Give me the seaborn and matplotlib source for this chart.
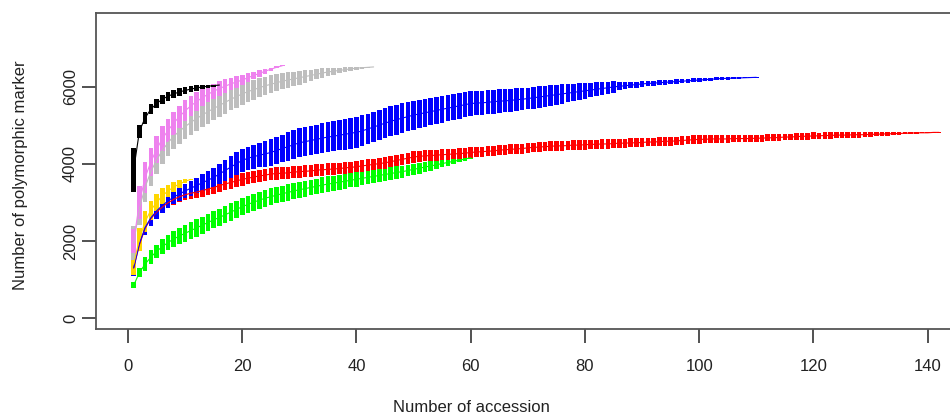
import matplotlib
matplotlib.use("Agg")
import matplotlib.pyplot as plt
import numpy as np
import seaborn as sns

# accumulation curves: mean number of markers and box height per accession count
black_mean = [3850, 4850, 5200, 5420, 5570, 5680, 5760, 5820, 5870, 5910, 5945, 5975, 6000, 6020, 6035, 6050]
black_box = [1150, 330, 300, 270, 250, 240, 230, 220, 210, 190, 170, 140, 110, 80, 50, 20]

violet_mean = [2000, 3000, 3650, 4050, 4380, 4650, 4870, 5060, 5230, 5380, 5510, 5620, 5720, 5810,
               5890, 5960, 6020, 6080, 6130, 6180, 6240, 6300, 6350, 6410, 6460, 6510, 6550]
violet_box = [600, 850, 800, 750, 700, 650, 620, 600, 570, 540, 510, 480, 450, 420,
              400, 380, 350, 320, 300, 270, 240, 200, 170, 130, 90, 50, 20]

grey_mean = [1950, 2850, 3400, 3800, 4100, 4350, 4550, 4720, 4850, 4970, 5080, 5180, 5270, 5360, 5440,
             5520, 5600, 5680, 5750, 5820, 5880, 5930, 5980, 6030, 6070, 6110, 6150, 6180, 6210, 6240,
             6270, 6300, 6330, 6360, 6390, 6410, 6430, 6450, 6470, 6490, 6500, 6510, 6520]
grey_box = [900, 850, 800, 750, 720, 700, 690, 680, 670, 660, 650, 640, 630, 620, 610,
            600, 590, 580, 570, 560, 540, 520, 500, 480, 460, 440, 420, 400, 380, 360,
            330, 300, 270, 240, 210, 180, 150, 120, 100, 80, 60, 40, 20]

gold_mean = [1400, 2050, 2500, 2800, 3000, 3170, 3300, 3400, 3480, 3550, 3600]
gold_box = [550, 600, 550, 500, 450, 400, 330, 260, 190, 110, 30]

blue_mean = [1300, 1930, 2350, 2600, 2780, 2920, 3040, 3140, 3220, 3300,
             3370, 3440, 3510, 3580, 3650, 3740, 3830, 3920, 4010, 4090,
             4150, 4190, 4230, 4260, 4300, 4350, 4400, 4450, 4500, 4550,
             4580, 4610, 4640, 4670, 4700, 4720, 4750, 4770, 4800, 4820,
             4860, 4910, 4960, 5010, 5060, 5110, 5150, 5190, 5230, 5270,
             5300, 5330, 5360, 5390, 5420, 5450, 5480, 5510, 5540, 5570,
             5580, 5590, 5600, 5620, 5630, 5640, 5650, 5670, 5680, 5700,
             5720, 5740, 5760, 5780, 5800, 5820, 5840, 5860, 5880, 5900,
             5920, 5940, 5960, 5980, 6000, 6020, 6030, 6050, 6060, 6080,
             6090, 6100, 6110, 6120, 6130, 6140, 6150, 6160, 6170, 6180,
             6190, 6200, 6210, 6220, 6225, 6230, 6235, 6240, 6245, 6250]
blue_box = [400, 350, 400, 400, 400, 380, 370, 360, 350, 350,
            380, 410, 440, 470, 500, 530, 560, 590, 600, 600,
            600, 620, 640, 660, 680, 700, 720, 740, 750, 750,
            760, 765, 770, 775, 780, 785, 790, 795, 800, 800,
            800, 800, 800, 790, 790, 780, 780, 770, 760, 750,
            740, 730, 720, 710, 700, 690, 680, 670, 660, 650,
            640, 630, 620, 620, 610, 600, 600, 590, 580, 570,
            560, 550, 540, 530, 520, 500, 480, 460, 440, 420,
            380, 360, 340, 320, 300, 200, 180, 160, 150, 140,
            135, 130, 125, 120, 115, 110, 105, 100, 100, 95,
            90, 85, 80, 75, 70, 60, 50, 40, 30, 15]

red_mean = [1300, 1900, 2330, 2580, 2750, 2880, 2990, 3080, 3150, 3200,
            3240, 3270, 3310, 3350, 3390, 3440, 3480, 3520, 3560, 3600,
            3630, 3660, 3690, 3710, 3740, 3750, 3760, 3770, 3790, 3800,
            3810, 3820, 3840, 3850, 3860, 3870, 3880, 3900, 3910, 3930,
            3950, 3970, 3990, 4010, 4030, 4060, 4090, 4120, 4150, 4180,
            4200, 4210, 4220, 4230, 4240, 4250, 4260, 4270, 4280, 4300,
            4310, 4320, 4330, 4340, 4360, 4370, 4380, 4390, 4400, 4420,
            4430, 4440, 4450, 4460, 4470, 4470, 4480, 4490, 4490, 4500,
            4510, 4510, 4520, 4520, 4530, 4540, 4540, 4550, 4550, 4560,
            4570, 4570, 4580, 4590, 4590, 4600, 4610, 4620, 4630, 4640,
            4640, 4650, 4650, 4650, 4650, 4660, 4660, 4660, 4660, 4670,
            4670, 4680, 4680, 4690, 4700, 4700, 4710, 4720, 4720, 4730,
            4730, 4740, 4740, 4750, 4750, 4750, 4760, 4760, 4760, 4770,
            4770, 4780, 4780, 4790, 4790, 4800, 4800, 4810, 4810, 4810, 4820, 4820]
red_box = [300, 280, 300, 300, 300, 290, 280, 280, 270, 270,
           280, 320, 320, 320, 320, 320, 320, 320, 320, 320,
           320, 320, 320, 320, 320, 320, 320, 320, 320, 320,
           310, 310, 310, 310, 310, 300, 300, 300, 300, 300,
           300, 300, 300, 300, 300, 290, 290, 290, 290, 290,
           280, 280, 280, 280, 280, 270, 270, 270, 270, 270,
           260, 260, 260, 260, 260, 260, 260, 260, 260, 260,
           250, 250, 250, 250, 250, 250, 250, 250, 250, 250,
           240, 240, 240, 240, 240, 240, 240, 240, 240, 240,
           230, 230, 230, 230, 230, 220, 220, 220, 220, 220,
           200, 200, 200, 200, 200, 190, 190, 190, 190, 190,
           180, 180, 180, 180, 180, 180, 180, 180, 180, 180,
           170, 170, 170, 160, 160, 160, 150, 150, 140, 130,
           110, 100, 90, 80, 70, 60, 50, 40, 30, 25, 20, 10]

green_mean = [850, 1180, 1400, 1580, 1730, 1850, 1960, 2050, 2130, 2200,
              2270, 2340, 2410, 2480, 2550, 2610, 2680, 2750, 2820, 2890,
              2950, 3010, 3060, 3110, 3150, 3190, 3230, 3260, 3300, 3330,
              3360, 3390, 3420, 3450, 3480, 3500, 3530, 3550, 3580, 3600,
              3630, 3650, 3680, 3700, 3730, 3750, 3780, 3800, 3830, 3860,
              3890, 3920, 3950, 3980, 4010, 4040, 4070, 4100, 4130, 4160]
green_box = [150, 250, 350, 350, 350, 380, 400, 420, 440, 450,
             450, 450, 450, 450, 450, 450, 450, 450, 450, 450,
             440, 440, 440, 430, 430, 430, 420, 420, 420, 420,
             410, 410, 400, 400, 400, 390, 390, 380, 380, 380,
             370, 360, 350, 340, 330, 320, 320, 310, 310, 300,
             280, 260, 240, 220, 200, 170, 140, 110, 80, 40]

# drawing order: back to front
series = [
    ("#00FF00", green_mean, green_box),
    ("#FF0000", red_mean, red_box),
    ("#0000FF", blue_mean, blue_box),
    ("#FFD700", gold_mean, gold_box),
    ("#BEBEBE", grey_mean, grey_box),
    ("#EE82EE", violet_mean, violet_box),
    ("#000000", black_mean, black_box),
]

sns.set_style("ticks")
plt.rcParams["font.family"] = ["Liberation Sans", "DejaVu Sans"]

fig = plt.figure(figsize=(9.5, 4.18), dpi=100)
# the plot box is cut off at the right edge of the figure
ax = fig.add_axes([96 / 950, 89 / 418, 854 / 950, 316 / 418])
ax.patch.set_visible(False)

for c, mean, box in series:
    mean = np.array(mean, dtype=float)
    box = np.array(box, dtype=float)
    x = np.arange(1, len(mean) + 1)
    ax.bar(x, box, bottom=mean - box / 2, width=0.8, color=c, linewidth=0, zorder=2)
    sns.lineplot(x=x, y=mean, color=c, linewidth=0.8, ax=ax, zorder=3)

ax.set_xlim(-5.6, 143.9)
ax.set_ylim(-286, 7921)
ax.set_xticks([0, 20, 40, 60, 80, 100, 120, 140])
ax.set_yticks([0, 2000, 4000, 6000])
ax.set_xlabel("")
ax.set_ylabel("")

spine_col = "#555555"
for s in ["left", "bottom", "top"]:
    ax.spines[s].set_visible(True)
    ax.spines[s].set_color(spine_col)
    ax.spines[s].set_linewidth(1.3)
ax.spines["right"].set_visible(False)

ax.tick_params(axis="both", direction="out", length=10, width=1.2, color="#333333",
               labelsize=12, labelcolor="#222222")
ax.tick_params(axis="x", pad=11.5)
ax.tick_params(axis="y", pad=3, right=False)
for lab in ax.get_yticklabels():
    lab.set_rotation(90)
    lab.set_va("center")

fig.text(471 / 950, 1 - 408 / 418, "Number of accession", ha="center", va="center",
         fontsize=12, color="#222222")
fig.text(21 / 950, 1 - 175 / 418, "Number of polymorphic marker", ha="center", va="center",
         rotation=90, fontsize=12, color="#222222")

fig.savefig("out.png", dpi=100)
